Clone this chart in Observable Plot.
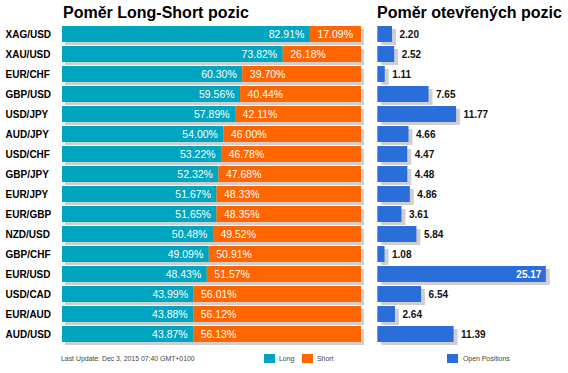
<!DOCTYPE html>
<html>
<head>
<meta charset="utf-8">
<script src="https://cdn.jsdelivr.net/npm/d3@7"></script>
<script src="https://cdn.jsdelivr.net/npm/@observablehq/plot@0.6"></script>
<style>
  html, body { margin: 0; padding: 0; background: #fff; }
  #wrap { position: relative; width: 568px; height: 373px; overflow: hidden; font-family: "Liberation Sans", Arial, sans-serif; }
  .title { position: absolute; top: 5px; font-size: 16px; line-height: 16px; font-weight: bold; color: #000; white-space: nowrap; }
  .plot { position: absolute; top: 0; }
  .small { position: absolute; top: 355px; font-size: 8px; line-height: 8px; color: #444; white-space: nowrap; transform-origin: left center; transform: scaleX(0.86); }
  .sw { position: absolute; top: 354px; width: 11px; height: 9px; }
</style>
</head>
<body>
<div id="wrap">
  <div class="title" style="left:63px">Poměr Long-Short pozic</div>
  <div class="title" style="left:377px">Poměr otevřených pozic</div>
  <div id="left" class="plot" style="left:0"></div>
  <div id="right" class="plot" style="left:370px"></div>
  <div class="small" style="left:61px">Last Update: Dec 3, 2015 07:40 GMT+0100</div>
  <div class="sw" style="left:264px;background:#00a6bf"></div>
  <div class="small" style="left:279px">Long</div>
  <div class="sw" style="left:302px;background:#ff6600"></div>
  <div class="small" style="left:317px">Short</div>
  <div class="sw" style="left:447px;background:#2a6fd9"></div>
  <div class="small" style="left:463px">Open Positions</div>
</div>
<script>
const pairs = ["XAG/USD","XAU/USD","EUR/CHF","GBP/USD","USD/JPY","AUD/JPY","USD/CHF","GBP/JPY","EUR/JPY","EUR/GBP","NZD/USD","GBP/CHF","EUR/USD","USD/CAD","EUR/AUD","AUD/USD"];
const longPct = [82.91,73.82,60.30,59.56,57.89,54.00,53.22,52.32,51.67,51.65,50.48,49.09,48.43,43.99,43.88,43.87];
const shortPct = [17.09,26.18,39.70,40.44,42.11,46.00,46.78,47.68,48.33,48.35,49.52,50.91,51.57,56.01,56.12,56.13];
const openPos = [2.20,2.52,1.11,7.65,11.77,4.66,4.47,4.48,4.86,3.61,5.84,1.08,25.17,6.54,2.64,11.39];

const rows = pairs.map((p, i) => ({pair: p, long: longPct[i], short: shortPct[i], open: openPos[i]}));

const TEAL = "#00a6bf", ORANGE = "#ff6600", BLUE = "#2a6fd9", SHADOW = "#cfcfcf";
const FONT = "Liberation Sans, Arial, sans-serif";
const H = 350;

const left = Plot.plot({
  width: 370, height: H,
  marginLeft: 62, marginRight: 9, marginTop: 23.5, marginBottom: H - 344.5,
  style: {background: "transparent", fontFamily: FONT},
  x: {domain: [0, 100], axis: null},
  y: {domain: pairs, padding: 0, axis: null},
  marks: [
    Plot.barX(rows, {y: "pair", x1: 0, x2: d => d.long + d.short, fill: SHADOW, dx: 3, dy: 3, insetTop: 2, insetBottom: 2}),
    Plot.barX(rows, {y: "pair", x1: 0, x2: "long", fill: TEAL, insetTop: 2, insetBottom: 2}),
    Plot.barX(rows, {y: "pair", x1: "long", x2: d => d.long + d.short, fill: ORANGE, insetTop: 2, insetBottom: 2}),
    Plot.ruleX(rows, {y: "pair", x: "long", stroke: "white", strokeWidth: 3, insetTop: 2, insetBottom: 2}),
    Plot.text(rows, {y: "pair", x: "long", text: d => d.long.toFixed(2) + "%", textAnchor: "end", dx: -6, fill: "white", fontSize: 10.5}),
    Plot.text(rows, {y: "pair", x: "long", text: d => d.short.toFixed(2) + "%", textAnchor: "start", dx: 7, fill: "white", fontSize: 10.5}),
    Plot.text(rows, {y: "pair", text: "pair", frameAnchor: "left", textAnchor: "start", dx: -57, fill: "#000", fontSize: 10, fontWeight: "bold"})
  ]
});
document.getElementById("left").appendChild(left);

const right = Plot.plot({
  width: 198, height: H,
  marginLeft: 7.3, marginRight: 3.2, marginTop: 23.5, marginBottom: H - 344.5,
  style: {background: "transparent", fontFamily: FONT},
  x: {domain: [0, 28], axis: null},
  y: {domain: pairs, padding: 0, axis: null},
  marks: [
    Plot.barX(rows, {y: "pair", x: "open", fill: SHADOW, dx: 4, dy: 3, insetTop: 2, insetBottom: 2}),
    Plot.barX(rows, {y: "pair", x: "open", fill: BLUE, insetTop: 2, insetBottom: 2}),
    Plot.text(rows.filter(d => d.open < 20), {y: "pair", x: "open", text: d => d.open.toFixed(2), textAnchor: "start", dx: 7, fill: "#111", fontSize: 10, fontWeight: "bold"}),
    Plot.text(rows.filter(d => d.open >= 20), {y: "pair", x: "open", text: d => d.open.toFixed(2), textAnchor: "end", dx: -5, fill: "white", fontSize: 10, fontWeight: "bold"})
  ]
});
document.getElementById("right").appendChild(right);
</script>
</body>
</html>
